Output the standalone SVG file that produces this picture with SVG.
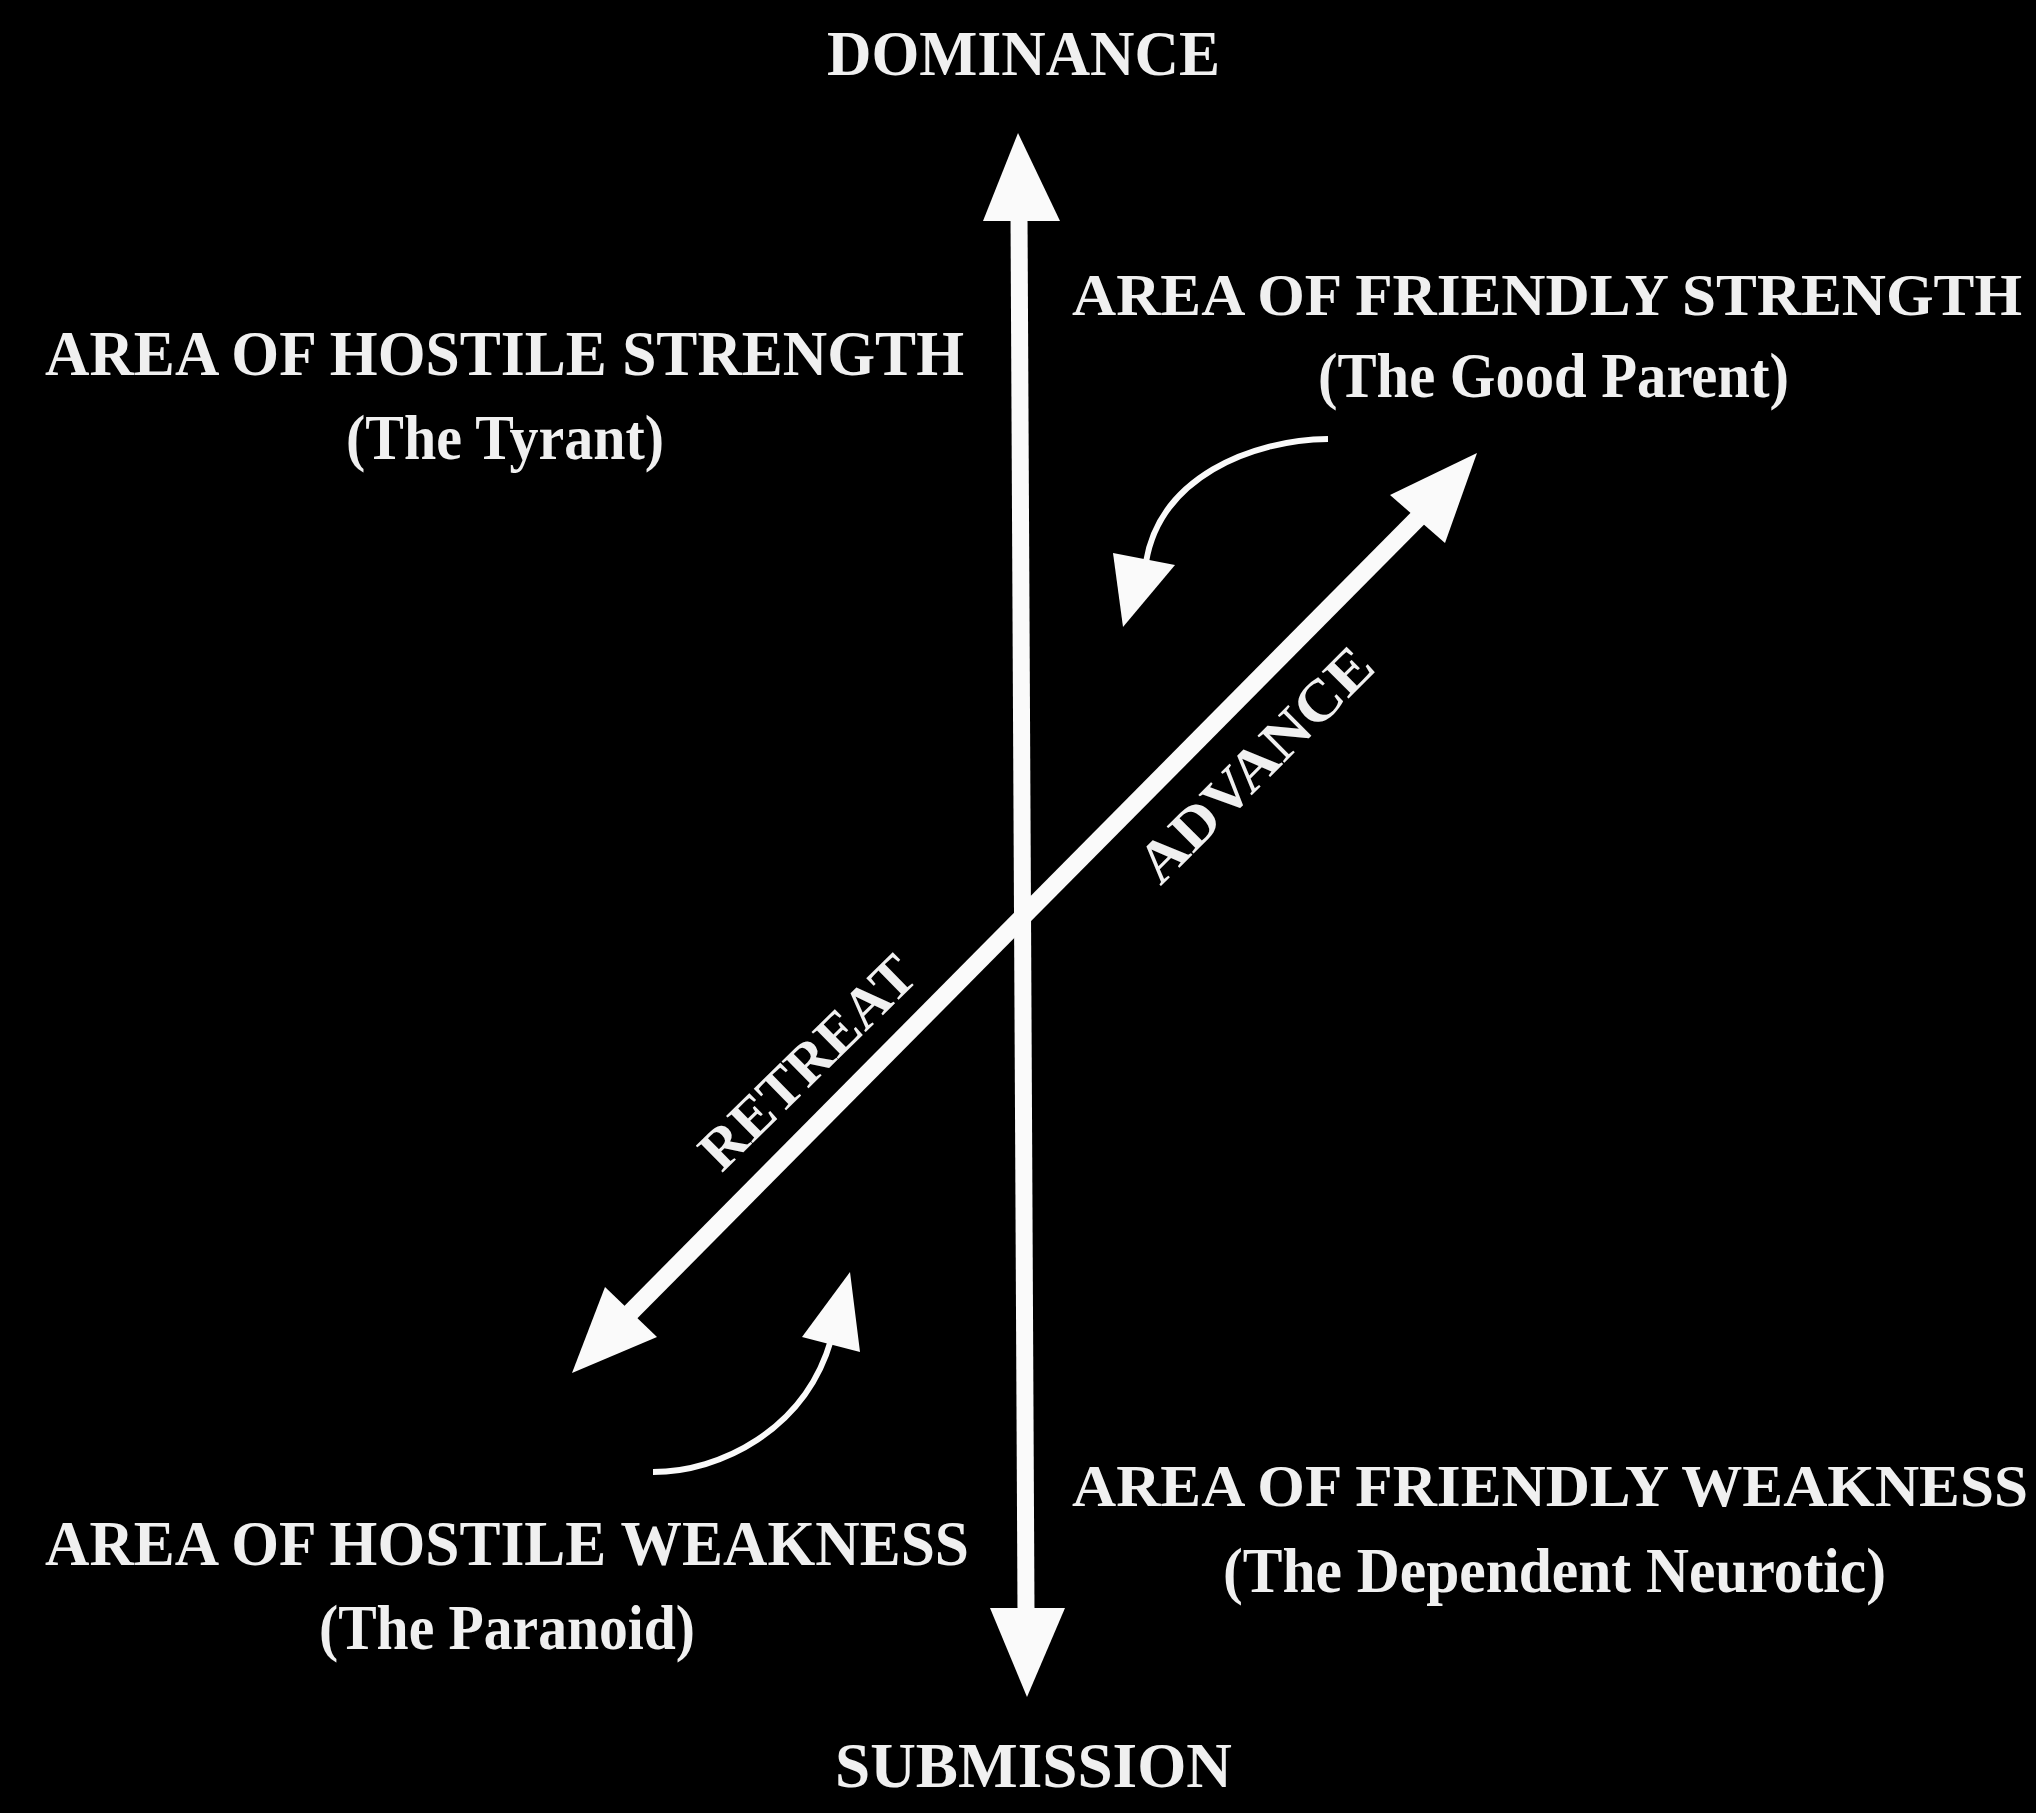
<svg xmlns="http://www.w3.org/2000/svg" width="2036" height="1813" viewBox="0 0 2036 1813">
<style>
.lbl{font-family:"Liberation Serif","Times New Roman",serif;font-weight:bold;font-size:64px;fill:#f0f0f0}
.wide{font-size:60px}
.axis{font-family:"Liberation Serif","Times New Roman",serif;font-weight:bold;font-size:58px;fill:#f0f0f0}
.shaft{stroke:#fafafa;fill:none;stroke-linecap:butt}
.head{fill:#fafafa;stroke:none}
</style>
<rect x="0" y="0" width="2036" height="1813" fill="#000"/>
<g id="connectors">
  <line class="shaft" x1="1019" y1="215" x2="1026" y2="1612" stroke-width="17"/>
  <polygon class="head" points="1018,133 1060,221 983,221"/>
  <polygon class="head" points="1027,1697 1065,1608 990,1608"/>
  <line class="shaft" x1="628" y1="1315" x2="1420" y2="516" stroke-width="18"/>
  <polygon class="head" points="1477,453 1445,543 1390,495"/>
  <polygon class="head" points="572,1373 605,1287 657,1337"/>
  <path class="shaft" d="M1328,439 C1250,440 1160,478 1146,562" stroke-width="6"/>
  <polygon class="head" points="1123,627 1113,553 1175,565"/>
  <path class="shaft" d="M653,1472 C720,1472 805,1430 831,1340" stroke-width="6"/>
  <polygon class="head" points="850,1272 860,1352 802,1337"/>
</g>
<g id="dominance"><text class="lbl" x="827" y="75" textLength="393" lengthAdjust="spacingAndGlyphs">DOMINANCE</text></g>
<g id="submission"><text class="lbl" x="835" y="1787" textLength="397" lengthAdjust="spacingAndGlyphs">SUBMISSION</text></g>
<g id="friendly-strength">
  <text class="lbl wide" x="1072" y="315" textLength="950" lengthAdjust="spacingAndGlyphs">AREA OF FRIENDLY STRENGTH</text>
  <text class="lbl" x="1318" y="397" textLength="471" lengthAdjust="spacingAndGlyphs">(The Good Parent)</text>
</g>
<g id="hostile-strength">
  <text class="lbl" x="45" y="375" textLength="919" lengthAdjust="spacingAndGlyphs">AREA OF HOSTILE STRENGTH</text>
  <text class="lbl" x="346" y="459" textLength="318" lengthAdjust="spacingAndGlyphs">(The Tyrant)</text>
</g>
<g id="friendly-weakness">
  <text class="lbl wide" x="1072" y="1506" textLength="956" lengthAdjust="spacingAndGlyphs">AREA OF FRIENDLY WEAKNESS</text>
  <text class="lbl" x="1223" y="1592" textLength="663" lengthAdjust="spacingAndGlyphs">(The Dependent Neurotic)</text>
</g>
<g id="hostile-weakness">
  <text class="lbl" x="45" y="1565" textLength="924" lengthAdjust="spacingAndGlyphs">AREA OF HOSTILE WEAKNESS</text>
  <text class="lbl" x="319" y="1649" textLength="376" lengthAdjust="spacingAndGlyphs">(The Paranoid)</text>
</g>
<g id="advance"><text class="axis" x="1269" y="778" text-anchor="middle" textLength="307" lengthAdjust="spacingAndGlyphs" transform="rotate(-45 1269 778)">ADVANCE</text></g>
<g id="retreat"><text class="axis" x="821" y="1076" text-anchor="middle" textLength="278" lengthAdjust="spacingAndGlyphs" transform="rotate(-44.5 821 1076)">RETREAT</text></g>
</svg>
